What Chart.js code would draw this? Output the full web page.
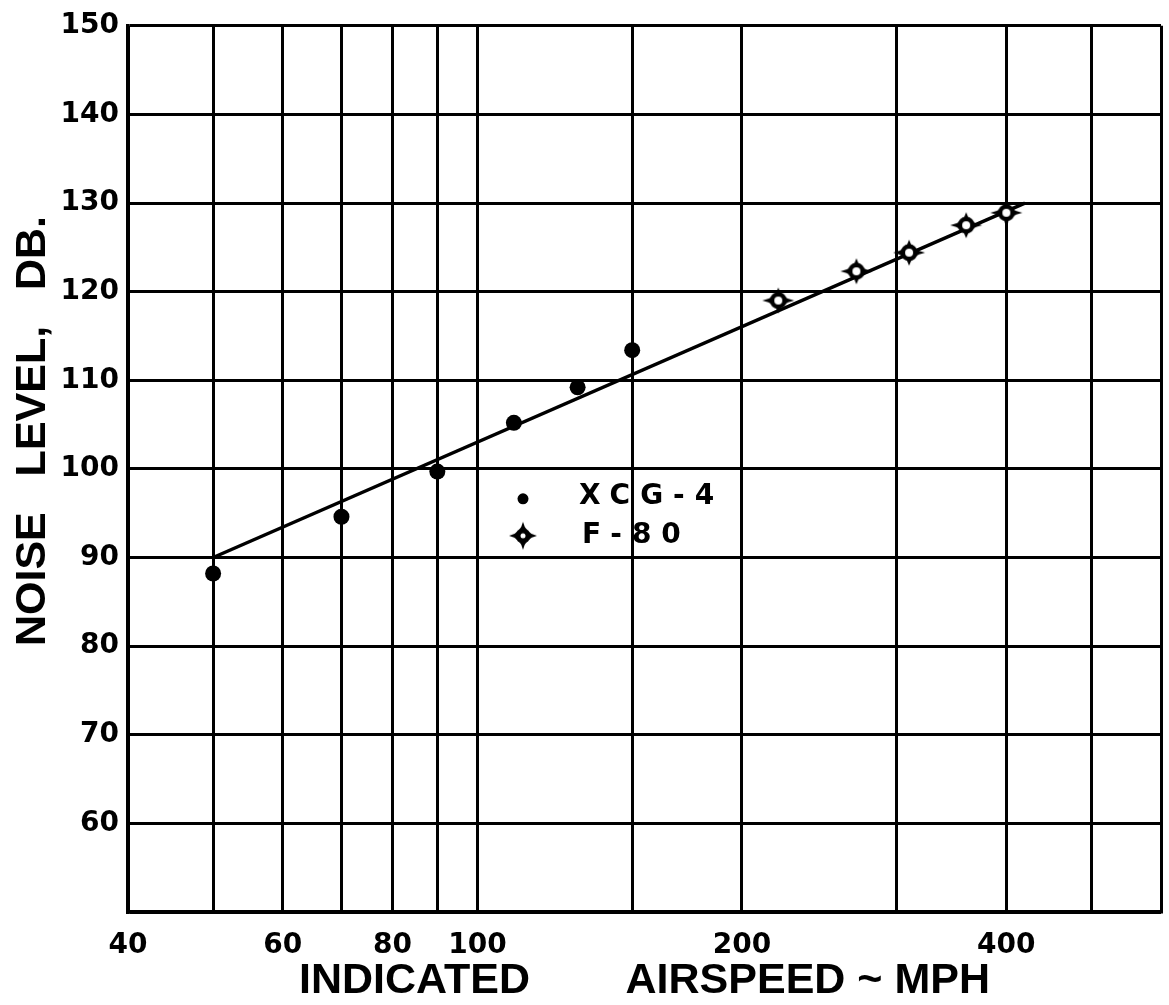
<!DOCTYPE html>
<html>
<head>
<meta charset="utf-8">
<script src="https://cdn.jsdelivr.net/npm/chart.js@4/dist/chart.umd.min.js"></script>
<style>
  html, body { margin: 0; padding: 0; background: #fff; }
  #wrap { width: 1169px; height: 1005px; position: relative; }
</style>
</head>
<body>
<div id="wrap"><canvas id="chart"></canvas></div>
<script>
// Measured noise level against indicated airspeed
const xcgSpeed = [50, 70, 90, 110, 130, 150];
const xcgNoise = [88.2, 94.6, 99.7, 105.2, 109.2, 113.4];
const f80Speed = [220, 270, 310, 360, 400];
const f80Noise = [119.0, 122.3, 124.4, 127.5, 128.9];

// Faired line through both sets
const fitSpeed = [50, 420];
const fitNoise = [90, 130];

// Axis grid and labels
const speedGrid = [40, 50, 60, 70, 80, 90, 100, 150, 200, 300, 400, 500, 600];
const speedLabels = [40, 60, 80, 100, 200, 400];
const noiseGrid = [50, 60, 70, 80, 90, 100, 110, 120, 130, 140, 150];
const noiseLabels = [60, 70, 80, 90, 100, 110, 120, 130, 140, 150];

const seriesNames = ['XCG-4', 'F-80'];
const xTitle = 'INDICATED        AIRSPEED ~ MPH';
const yTitle = 'NOISE   LEVEL,   DB.';

const INK = '#000';

// Four-pointed star with a hollow centre, used for the F-80 points
function starMarker(w, h, ring, hole, k) {
  const c = document.createElement('canvas');
  c.width = w; c.height = h;
  const g = c.getContext('2d');
  const mx = w / 2, my = h / 2, ax = mx - 1, ay = my - 1;
  g.fillStyle = INK;
  g.beginPath();
  g.moveTo(mx + ax, my);
  g.quadraticCurveTo(mx + k, my - k, mx, my - ay);
  g.quadraticCurveTo(mx - k, my - k, mx - ax, my);
  g.quadraticCurveTo(mx - k, my + k, mx, my + ay);
  g.quadraticCurveTo(mx + k, my + k, mx + ax, my);
  g.fill();
  g.beginPath(); g.arc(mx, my, ring, 0, Math.PI * 2); g.fill();
  g.fillStyle = '#fff';
  g.beginPath(); g.arc(mx, my, hole, 0, Math.PI * 2); g.fill();
  return c;
}
const plotStar = starMarker(34, 28, 8.5, 4, 2.5);
const keyStar = starMarker(30, 30, 7.5, 2.5, 2.5);

const toPoints = (xs, ys) => xs.map((x, i) => ({ x: x, y: ys[i] }));

// Key drawn inside the plotting area
const insetKey = {
  id: 'insetKey',
  afterDraw(chart) {
    const { ctx, chartArea: a } = chart;
    const x0 = a.left + 395, y0 = a.top + 473, gap = 37;
    ctx.save();
    ctx.fillStyle = INK;
    ctx.beginPath(); ctx.arc(x0, y0, 5.5, 0, Math.PI * 2); ctx.fill();
    ctx.drawImage(keyStar, x0 - keyStar.width / 2, y0 + gap - keyStar.height / 2);
    ctx.font = 'bold 28px "DejaVu Sans"';
    ctx.textAlign = 'left';
    ctx.textBaseline = 'middle';
    ctx.letterSpacing = '10px';
    ctx.fillText(seriesNames[0], x0 + 56, y0 - 2);
    ctx.fillText(seriesNames[1], x0 + 59, y0 + gap);
    ctx.restore();
  }
};

// Vertical axis title
const sideTitle = {
  id: 'sideTitle',
  afterDraw(chart) {
    const { ctx } = chart;
    ctx.save();
    ctx.translate(33, 431);
    ctx.rotate(-Math.PI / 2);
    ctx.font = 'bold 43px "Liberation Sans"';
    ctx.fillStyle = INK;
    ctx.textAlign = 'center';
    ctx.textBaseline = 'middle';
    ctx.fillText(yTitle, 0, 0);
    ctx.restore();
  }
};

const yTickFont = { family: 'DejaVu Sans', weight: 'bold', size: 28 };
const xTickFont = { family: 'DejaVu Sans', weight: 'bold', size: 28, lineHeight: '54px' };

new Chart(document.getElementById('chart'), {
  type: 'scatter',
  data: {
    datasets: [
      {
        label: seriesNames[0],
        data: toPoints(xcgSpeed, xcgNoise),
        pointStyle: 'circle',
        pointRadius: 8,
        pointBackgroundColor: INK,
        pointBorderWidth: 0,
        order: 1
      },
      {
        label: seriesNames[1],
        data: toPoints(f80Speed, f80Noise),
        pointStyle: plotStar,
        order: 2
      },
      {
        label: 'fit',
        data: toPoints(fitSpeed, fitNoise),
        showLine: true,
        borderColor: INK,
        borderWidth: 3.5,
        pointRadius: 0,
        order: 3
      }
    ]
  },
  options: {
    responsive: true,
    maintainAspectRatio: false,
    animation: false,
    layout: { padding: { top: 22, right: 7, left: 0, bottom: 0 } },
    plugins: { legend: { display: false }, tooltip: { enabled: false } },
    scales: {
      x: {
        type: 'logarithmic',
        min: 40,
        max: 600,
        afterBuildTicks: s => { s.ticks = speedGrid.map(v => ({ value: v })); },
        afterFit: s => { s.height = 93; },
        grid: { color: INK, lineWidth: 3, drawTicks: false },
        border: { color: INK, width: 3.5 },
        ticks: {
          autoSkip: false,
          maxRotation: 0,
          padding: 7,
          color: INK,
          font: xTickFont,
          callback: v => speedLabels.includes(v) ? String(v) : ''
        },
        title: {
          display: true,
          text: xTitle,
          color: INK,
          font: { family: 'Liberation Sans', weight: 'bold', size: 43, lineHeight: 1 },
          padding: { top: 0, bottom: 2 }
        }
      },
      y: {
        min: 50,
        max: 150,
        afterBuildTicks: s => { s.ticks = noiseGrid.map(v => ({ value: v })); },
        afterFit: s => { s.width = 128; },
        grid: { color: INK, lineWidth: 3, drawTicks: false },
        border: { color: INK, width: 3.5 },
        ticks: {
          padding: 9,
          color: INK,
          font: yTickFont,
          callback: v => noiseLabels.includes(v) ? String(v) : ''
        }
      }
    }
  },
  plugins: [insetKey, sideTitle]
});
</script>
</body>
</html>
